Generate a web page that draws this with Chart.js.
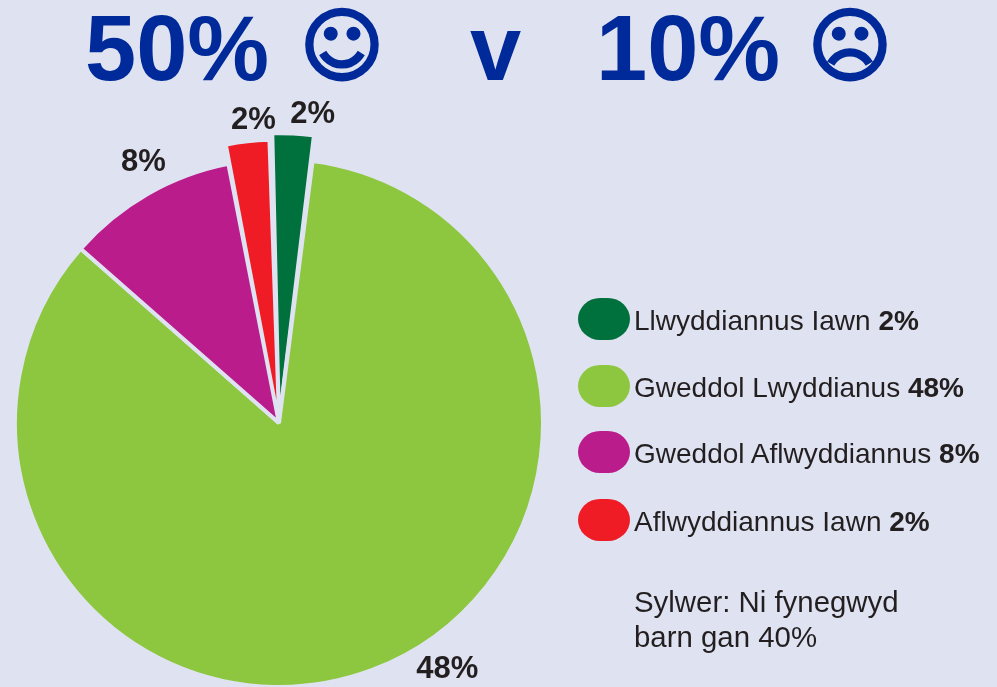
<!DOCTYPE html>
<html>
<head>
<meta charset="utf-8">
<title>50% v 10%</title>
<script src="https://cdn.jsdelivr.net/npm/chart.js@4"></script>
<style>
    html, body { margin: 0; padding: 0; background: #dfe3f1; overflow: hidden; }
    #page { position: relative; width: 997px; height: 687px; font-family: "Liberation Sans", Arial, sans-serif; color: #231f20; }
    #grafico { position: absolute; left: 0; top: 0; }
    .titulo { position: absolute; top: -4px; font-size: 92px; line-height: 104px; font-weight: bold; color: #00299a; white-space: nowrap; }
    .cara { position: absolute; top: -6px; font-family: "DejaVu Sans"; font-size: 80.5px; line-height: 104px; font-weight: normal; color: #00299a; -webkit-text-stroke: 3px #00299a; }
    .fila { position: absolute; left: 634px; font-size: 28px; line-height: 30px; white-space: nowrap; }
    .muestra { position: absolute; left: -56px; top: -8px; width: 52px; height: 42px; border-radius: 22px / 21px; }
    #nota { position: absolute; left: 634px; top: 584px; font-size: 29.4px; line-height: 35px; white-space: nowrap; }
</style>
</head>
<body>
<div id="page">
    <canvas id="grafico" width="997" height="687"></canvas>
    <div class="titulo" style="left:85px">50%</div>
    <div class="cara" style="left:300px">&#9786;</div>
    <div class="titulo" style="left:470px">v</div>
    <div class="titulo" style="left:596px">10%</div>
    <div class="cara" style="left:808px">&#9785;</div>
    <div id="leyenda"></div>
    <div id="nota">Sylwer: Ni fynegwyd<br>barn gan 40%</div>
</div>
<script>
// Categorias y etiquetas tal como aparecen impresas
const categorias = ['Llwyddiannus Iawn', 'Gweddol Lwyddianus', 'Gweddol Aflwyddiannus', 'Aflwyddiannus Iawn'];
const porcentajes = [2, 48, 8, 2];
// Tamano de cada porcion (% del circulo); no sigue exactamente las etiquetas
const porciones = [2.5, 84.45, 10.45, 2.6];
const colores = ['#00703c', '#8dc63f', '#bb1c8c', '#ef1c25'];

// Porciones separadas del centro (Chart.js desplaza la mitad de este valor)
const separacion = [54, 0, 0, 40];
const bordes = [2, 4, 4, 2];
// Ajuste de cada etiqueta respecto al borde de su porcion
const ajusteEtiquetas = [[19.5, -17.5], [75, -1], [-4, -32], [6, -20]];
const filasLeyenda = [306, 373, 439, 507];

// Leyenda
const leyenda = document.getElementById('leyenda');
categorias.forEach(function(nombre, i) {
    const fila = document.createElement('div');
    fila.className = 'fila';
    fila.style.top = filasLeyenda[i] + 'px';
    fila.innerHTML = '<span class="muestra" style="background:' + colores[i] + '"></span>' + nombre + ' <b>' + porcentajes[i] + '%</b>';
    leyenda.appendChild(fila);
});

// Etiquetas junto a cada porcion
const etiquetasPlugin = {
    id: 'etiquetas',
    afterDatasetsDraw(chart) {
        const ctx = chart.ctx;
        ctx.save();
        ctx.font = 'bold 31px "Liberation Sans"';
        ctx.fillStyle = '#231f20';
        ctx.textAlign = 'center';
        ctx.textBaseline = 'middle';
        chart.getDatasetMeta(0).data.forEach(function(arco, i) {
            const medio = (arco.startAngle + arco.endAngle) / 2;
            const r = arco.outerRadius + separacion[i] / 2;
            const x = arco.x + Math.cos(medio) * r + ajusteEtiquetas[i][0];
            const y = arco.y + Math.sin(medio) * r + ajusteEtiquetas[i][1];
            ctx.fillText(porcentajes[i] + '%', x, y);
        });
        ctx.restore();
    }
};

new Chart(document.getElementById('grafico').getContext('2d'), {
    type: 'pie',
    data: {
        labels: categorias,
        datasets: [{
            data: porciones,
            backgroundColor: colores,
            borderColor: '#dfe3f1',
            borderWidth: bordes,
            offset: separacion,
            rotation: -1.7
        }]
    },
    options: {
        responsive: false,
        animation: false,
        radius: 264,
        layout: { padding: { left: 0, right: 439, top: 159, bottom: 0 } },
        plugins: { legend: { display: false }, tooltip: { enabled: false } }
    },
    plugins: [etiquetasPlugin]
});
</script>
</body>
</html>
